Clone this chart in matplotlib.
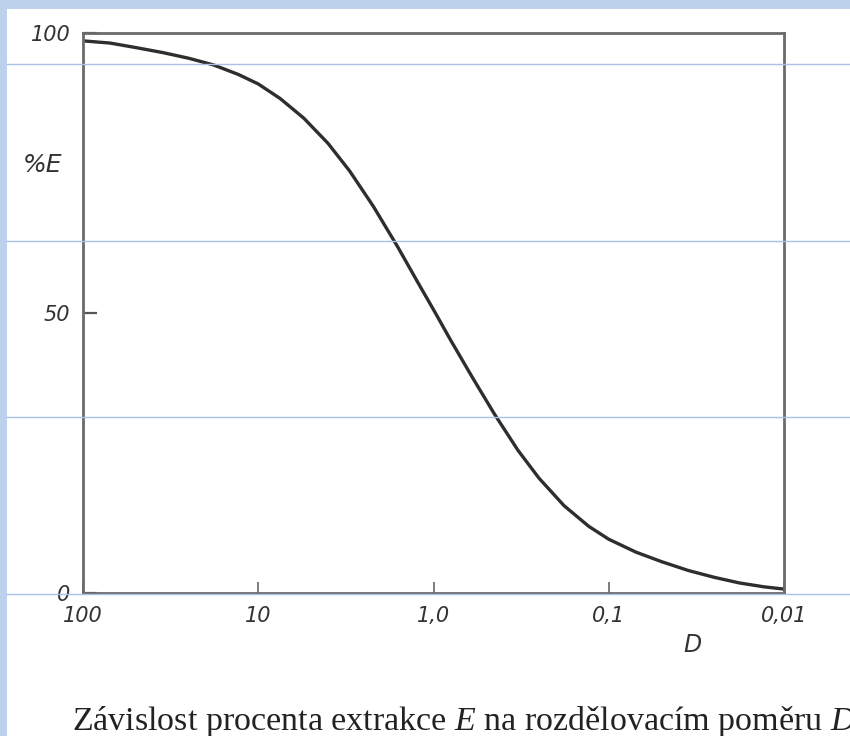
import matplotlib
matplotlib.use('Agg')
import matplotlib.pyplot as plt
from matplotlib.lines import Line2D
from matplotlib.patches import Rectangle

# hodnoty
D = [100, 70, 50, 35, 25, 18, 13, 10, 7.5, 5.5, 4, 3, 2.2, 1.6, 1.2, 1.0,
     0.8, 0.6, 0.45, 0.33, 0.25, 0.18, 0.13, 0.1, 0.07, 0.05, 0.035, 0.025,
     0.018, 0.013, 0.01]
E = [98.6, 98.2, 97.4, 96.5, 95.5, 94.3, 92.6, 90.9, 88.3, 84.8, 80.3, 75.3,
     69.0, 61.8, 54.9, 50.6, 45.2, 38.5, 32.0, 25.5, 20.5, 15.6, 11.9, 9.6,
     7.3, 5.6, 4.0, 2.8, 1.8, 1.1, 0.7]

x_ticks = [100, 10, 1.0, 0.1, 0.01]
x_labels = ['100', '10', '1,0', '0,1', '0,01']
y_ticks = [0, 50, 100]
y_labels = ['0', '50', '100']

plt.rcParams['mathtext.fontset'] = 'custom'
plt.rcParams['mathtext.rm'] = 'Liberation Serif'
plt.rcParams['mathtext.it'] = 'Liberation Serif:italic'

fig = plt.figure(figsize=(8.5, 7.36), dpi=100)
fig.patch.set_facecolor('#bdd0ec')

# bily list pres modre pozadi
fig.add_artist(Rectangle((7 / 850, 0), 1, 1 - 9 / 736, transform=fig.transFigure,
                         facecolor='white', edgecolor='none', zorder=0))

ax = fig.add_axes([83 / 850, 1 - 593 / 736, 701 / 850, 560 / 736])
ax.set_facecolor('white')
ax.plot(D, E, color='#2e2e2e', lw=2.4, solid_capstyle='round', solid_joinstyle='round')

ax.set_xscale('log')
ax.set_xlim(100, 0.01)
ax.set_ylim(0, 100)
ax.minorticks_off()
ax.set_xticks(x_ticks)
ax.set_xticklabels(x_labels)
ax.set_yticks(y_ticks)
ax.set_yticklabels(y_labels)
ax.tick_params(axis='x', direction='in', length=8, width=1.2, color='#666666',
               labelsize=15, pad=9)
ax.tick_params(axis='y', direction='in', length=10, width=1.6, color='#555555',
               labelsize=15, pad=9)
for lab in ax.get_xticklabels() + ax.get_yticklabels():
    lab.set_fontstyle('italic')
    lab.set_color('#333333')

for s in ax.spines.values():
    s.set_color('#6a6a6a')
    s.set_linewidth(2)

ax.set_ylabel('%E', rotation=0, fontsize=18, style='italic', color='#333333',
              va='center', ha='center')
ax.yaxis.set_label_coords(-0.058, 0.764)
ax.set_xlabel('D', fontsize=17, style='italic', color='#333333')
ax.xaxis.set_label_coords(0.869, -0.072)

# tenke modre linky ze slajdu
for yp in [64, 241, 417, 594]:
    fig.add_artist(Line2D([7 / 850, 1], [1 - yp / 736] * 2, transform=fig.transFigure,
                          color='#aac0e6', lw=1, zorder=5))

# popisek je v originale na prave strane oriznuty
fig.text(72 / 850, 1 - 730 / 736,
         'Závislost procenta extrakce $E$ na rozdělovacím poměru $D$',
         fontsize=24.5, family='Liberation Serif', color='#222222', va='baseline')

fig.savefig('out.png', dpi=100, facecolor=fig.get_facecolor())
